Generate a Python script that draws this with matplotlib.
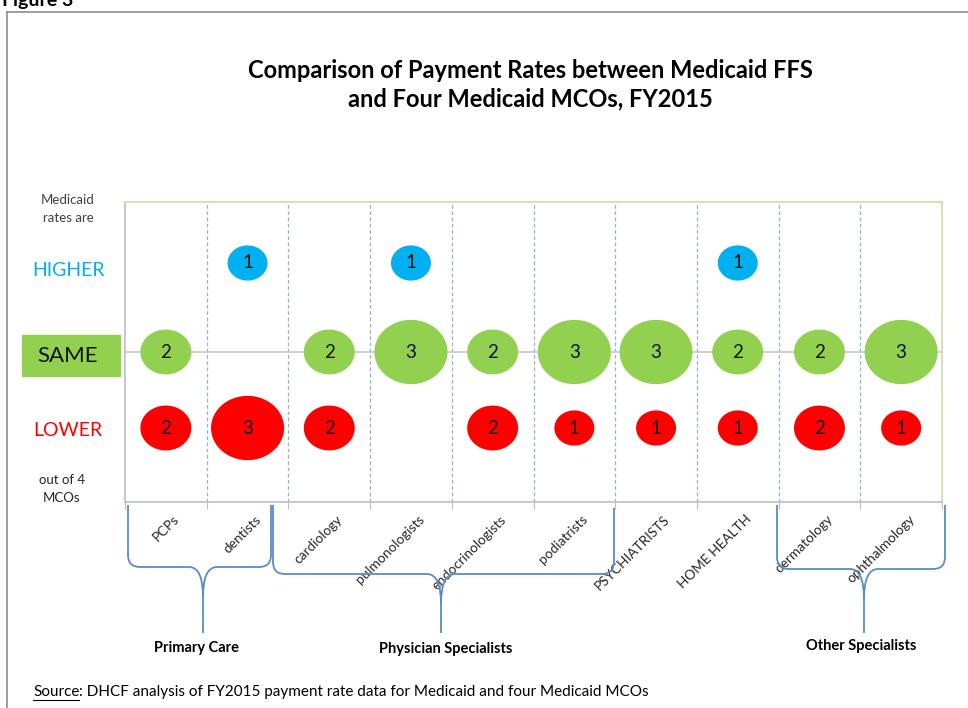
import numpy as np
import matplotlib
matplotlib.use("Agg")
from matplotlib import pyplot as plt
from matplotlib.path import Path
from matplotlib.patches import PathPatch, Rectangle
from matplotlib.lines import Line2D
from matplotlib.transforms import ScaledTranslation

plt.rcParams['font.family'] = ['Lato', 'DejaVu Sans']

# data -----------------------------------------------------------------------
categories = ['PCPs', 'dentists', 'cardiology', 'pulmonologists', 'endocrinologists',
              'podiatrists', 'PSYCHIATRISTS', 'HOME HEALTH', 'dermatology', 'ophthalmology']
higher = [0, 1, 0, 1, 0, 0, 0, 1, 0, 0]
same = [2, 0, 2, 3, 2, 3, 3, 2, 2, 3]
lower = [2, 3, 2, 0, 2, 1, 1, 1, 2, 1]
groups = ['Primary Care', 'Physician Specialists', 'Other Specialists']

title = "Comparison of Payment Rates between Medicaid FFS\nand Four Medicaid MCOs, FY2015"
source = ": DHCF analysis of FY2015 payment rate data for Medicaid and four Medicaid MCOs"

# layout ---------------------------------------------------------------------
W, H = 968, 708
row_pos = {'HIGHER': 89, 'SAME': 0, 'LOWER': -76}
bubble_w = {1: 28.8, 2: 36.7, 3: 52.6}  # marker width in points
BLUE, GREEN, RED = '#00B0F0', '#92D050', '#FF0000'
BRACE = '#5B8BC9'


def fx(px):
    return px / W


def fy(py):
    return 1 - py / H


fig = plt.figure(figsize=(W / 100, H / 100), dpi=100)
ax = fig.add_axes([fx(125), fy(502), (942 - 125) / W, (502 - 202) / H])
ax.set_xlim(0, 10)
ax.set_ylim(-150, 150)

for b in range(1, 10):
    ax.axvline(b, color='#95B3D7', lw=0.9, ls=(0, (3, 2)), zorder=1)
ax.axhline(0, color='#C8C8C8', lw=1.2, zorder=1)

ax.spines['left'].set_color('#BFBFBF')
ax.spines['bottom'].set_color('#BFBFBF')
ax.spines['top'].set_color('#C6E0A8')
ax.spines['right'].set_color('#C6E0A8')
for s in ax.spines.values():
    s.set_linewidth(1.2)

ax.set_yticks([])
ax.set_xticks(range(11))
ax.set_xticklabels([])
ax.tick_params(axis='x', which='major', length=5, color='#BFBFBF', direction='out')
ax.set_xticks(np.arange(10) + 0.5, minor=True)
ax.set_xticklabels(categories, minor=True, rotation=45, ha='right',
                   rotation_mode='anchor', fontsize=9.8, color='#262626')
ax.tick_params(axis='x', which='minor', length=0, pad=8)
for lbl in ax.get_xticklabels(minor=True):
    lbl.set_transform(lbl.get_transform() + ScaledTranslation(0.07, 0, fig.dpi_scale_trans))

# bubbles
t = np.linspace(0, 2 * np.pi, 80)
ellipse = Path(np.column_stack([np.cos(t), 0.88 * np.sin(t)]), closed=True)
x = np.arange(10) + 0.5
for row, vals, col in [('HIGHER', higher, BLUE), ('SAME', same, GREEN), ('LOWER', lower, RED)]:
    vals = np.array(vals)
    m = vals > 0
    ax.scatter(x[m], np.full(m.sum(), row_pos[row]), s=[bubble_w[v] ** 2 for v in vals[m]],
               marker=ellipse, c=col, linewidths=0, zorder=3, clip_on=False)
    for xi, v in zip(x[m], vals[m]):
        ax.text(xi, row_pos[row], str(v), ha='center', va='center', fontsize=13.5,
                color='#111111', zorder=4)

# title and left labels
fig.text(0.002, fy(6), 'Figure 3', fontsize=14, fontweight='bold', va='baseline')
fig.text(fx(530), fy(85), title, ha='center', va='center', fontsize=17,
         fontweight='bold', linespacing=1.3)
fig.text(fx(68), fy(209), 'Medicaid\nrates are', ha='center', va='center',
         fontsize=9.5, color='#404040', linespacing=1.6)
fig.text(fx(68), fy(270), 'HIGHER', ha='center', va='center', fontsize=14, color=BLUE)
fig.patches.append(Rectangle((fx(22), fy(376)), (120 - 22) / W, (376 - 335) / H,
                             transform=fig.transFigure, color=GREEN, zorder=0))
fig.text(fx(68), fy(356), 'SAME', ha='center', va='center', fontsize=16, color='#111111')
fig.text(fx(68), fy(431), 'LOWER', ha='center', va='center', fontsize=14, color=RED)
fig.text(fx(62), fy(489), 'out of 4\nMCOs', ha='center', va='center',
         fontsize=9.5, color='#262626', linespacing=1.6)


# curly braces under the axis
def brace(x0, x1, xc, ytop0, ytop1, ymid, ybot, r=12, rcx=14, rcy=30):
    verts = [(x0, ytop0), (x0, ymid - r), (x0, ymid), (x0 + r, ymid),
             (xc - rcx, ymid), (xc, ymid), (xc, ymid + rcy), (xc, ybot),
             (x1, ytop1), (x1, ymid - r), (x1, ymid), (x1 - r, ymid),
             (xc + rcx, ymid), (xc, ymid), (xc, ymid + rcy)]
    codes = [Path.MOVETO, Path.LINETO, Path.CURVE3, Path.CURVE3,
             Path.LINETO, Path.CURVE3, Path.CURVE3, Path.LINETO,
             Path.MOVETO, Path.LINETO, Path.CURVE3, Path.CURVE3,
             Path.LINETO, Path.CURVE3, Path.CURVE3]
    verts = [(fx(a), fy(b)) for a, b in verts]
    fig.patches.append(PathPatch(Path(verts, codes), transform=fig.transFigure,
                                 fill=False, edgecolor=BRACE, lw=1.3))


brace(128, 271, 203, 505, 505, 567, 633)
brace(273, 614, 441, 505, 508, 574, 633)
brace(777, 945, 864, 505, 505, 569, 633)

for name, (gx, gy) in zip(groups, [(196, 648), (446, 649), (861, 646)]):
    fig.text(fx(gx), fy(gy), name, ha='center', va='center', fontsize=10.5, fontweight='bold')

# source line with underlined "Source"
st = fig.text(fx(33), fy(692), 'Source', ha='left', va='center', fontsize=11)
fig.canvas.draw()
bb = st.get_window_extent(fig.canvas.get_renderer())
fig.text(bb.x1 / W, fy(692), source, ha='left', va='center', fontsize=11)
fig.lines.append(Line2D([bb.x0 / W, bb.x1 / W], [fy(700), fy(700)], color='black', lw=0.8,
                        transform=fig.transFigure))

# outer frame
fig.lines.append(Line2D([fx(7), fx(7)], [fy(12), 0], color='#8C8C8C', lw=1.2, transform=fig.transFigure))
fig.lines.append(Line2D([fx(7), 1], [fy(12), fy(12)], color='#8C8C8C', lw=1.2, transform=fig.transFigure))

fig.savefig('out.png', dpi=100)
